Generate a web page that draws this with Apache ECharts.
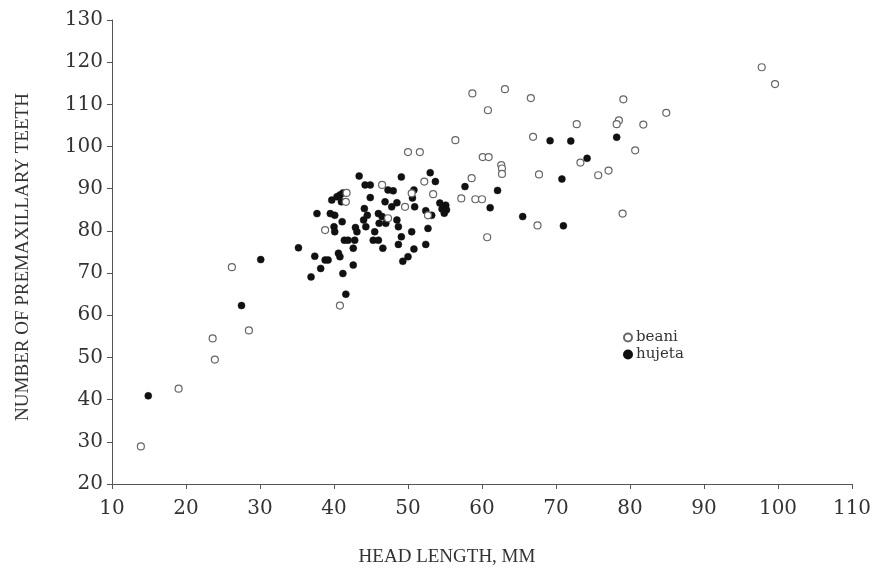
<!DOCTYPE html>
<html>
<head>
<meta charset="utf-8">
<script src="https://cdn.jsdelivr.net/npm/echarts@6/dist/echarts.min.js"></script>
<style>
html,body{margin:0;padding:0;background:#fff;}
#chart{width:879px;height:573px;}
</style>
</head>
<body>
<div id="chart"></div>
<script>
// Axis ticks
var xTicks = [10, 20, 30, 40, 50, 60, 70, 80, 90, 100, 110];
var yTicks = [20, 30, 40, 50, 60, 70, 80, 90, 100, 110, 120, 130];

// beani (open circles): [head length mm, premaxillary teeth]
var beaniHead = [13.9, 19.0, 23.6, 23.9, 28.5, 26.2, 40.8, 38.8, 41.7, 41.6, 46.5, 50.5, 49.6, 47.3, 52.2, 53.4, 52.7, 50.0, 51.6, 56.4, 58.6, 57.2, 59.1, 60.0, 60.7, 60.1, 60.9, 62.6, 62.7, 62.7, 58.7, 63.1, 60.8, 66.6, 66.9, 67.7, 67.5, 72.8, 73.3, 75.7, 77.1, 78.5, 78.2, 79.1, 79.0, 80.7, 81.8, 84.9, 97.8, 99.6];
var beaniTeeth = [28.9, 42.6, 54.5, 49.5, 56.4, 71.4, 62.3, 80.2, 89.0, 86.9, 90.9, 88.9, 85.7, 83.0, 91.7, 88.7, 83.7, 98.7, 98.7, 101.5, 92.5, 87.7, 87.5, 87.5, 78.5, 97.5, 97.5, 95.6, 94.8, 93.5, 112.6, 113.6, 108.6, 111.5, 102.3, 93.4, 81.3, 105.3, 96.2, 93.2, 94.3, 106.2, 105.3, 111.2, 84.1, 99.1, 105.2, 108.0, 118.8, 114.8];

// hujeta (filled circles)
var hujetaHead = [14.9, 27.5, 30.1, 35.2, 37.7, 39.5, 40.1, 39.7, 40.4, 40.8, 41.2, 41.0, 41.1, 40.0, 40.1, 37.4, 38.8, 39.2, 40.6, 40.8, 38.2, 36.9, 41.2, 41.6, 41.4, 41.9, 42.8, 42.6, 42.6, 42.9, 43.1, 44.3, 45.5, 45.3, 46.0, 46.6, 46.1, 47.0, 48.7, 48.5, 49.1, 50.5, 48.7, 50.8, 50.0, 49.3, 52.7, 52.4, 43.4, 44.2, 44.9, 49.1, 53.0, 53.7, 47.3, 48.0, 50.8, 44.9, 46.9, 48.5, 47.8, 50.6, 50.9, 44.1, 44.5, 44.0, 46.0, 46.5, 52.4, 53.2, 54.3, 55.1, 54.6, 55.2, 54.9, 57.7, 62.1, 61.1, 65.5, 71.0, 70.8, 69.2, 72.0, 78.2, 74.2];
var hujetaTeeth = [40.9, 62.3, 73.2, 76.0, 84.1, 84.1, 83.7, 87.3, 88.1, 88.5, 89.0, 86.9, 82.2, 81.0, 79.8, 74.0, 73.1, 73.1, 74.7, 73.9, 71.1, 69.1, 69.9, 65.0, 77.8, 77.8, 77.8, 75.9, 71.9, 80.8, 79.8, 81.0, 79.8, 77.8, 77.8, 75.9, 81.8, 81.8, 81.0, 82.6, 78.6, 79.8, 76.8, 75.7, 73.9, 72.8, 80.6, 76.8, 93.0, 90.9, 90.9, 92.8, 93.8, 91.7, 89.7, 89.5, 89.7, 87.9, 86.9, 86.7, 85.7, 87.8, 85.7, 85.3, 83.7, 82.6, 84.1, 83.4, 84.8, 83.7, 86.6, 86.1, 85.2, 85.0, 84.2, 90.5, 89.6, 85.5, 83.4, 81.2, 92.3, 101.4, 101.3, 102.2, 97.2];

function pairs(xs, ys) { return xs.map(function (x, i) { return [x, ys[i]]; }); }

var serif = "'Liberation Serif', 'DejaVu Serif', serif";
var chart = echarts.init(document.getElementById('chart'), null, {renderer: 'canvas'});
chart.setOption({
  animation: false,
  backgroundColor: '#ffffff',
  grid: {left: 112, right: 27, top: 20, bottom: 89},
  legend: {
    orient: 'vertical',
    left: 618,
    top: 325,
    itemWidth: 8,
    itemHeight: 8,
    itemGap: 2,
    data: ['beani', 'hujeta'],
    textStyle: {fontFamily: "'DejaVu Serif', serif", fontSize: 15, color: '#333', padding: [0, 0, 0, -1]}
  },
  xAxis: {
    type: 'value',
    min: 10, max: 110, interval: 10,
    name: 'HEAD LENGTH, MM',
    nameLocation: 'middle',
    nameGap: 64,
    nameTextStyle: {fontFamily: serif, fontSize: 19, color: '#333', verticalAlign: 'top', padding: [0, 70, 0, 0]},
    axisLine: {show: true, lineStyle: {color: '#555', width: 1}},
    axisTick: {show: true, inside: false, length: 5, lineStyle: {color: '#555'}},
    axisLabel: {fontFamily: "'DejaVu Serif', serif", fontSize: 20, color: '#333', margin: 15,
      formatter: function (v) { return xTicks.indexOf(v) >= 0 ? String(v) : ''; }},
    splitLine: {show: false}
  },
  yAxis: {
    type: 'value',
    min: 20, max: 130, interval: 10,
    name: 'NUMBER OF PREMAXILLARY TEETH',
    nameLocation: 'middle',
    nameGap: 79,
    nameRotate: 90,
    nameTextStyle: {fontFamily: serif, fontSize: 19, color: '#333', padding: [0, 10, 0, 0]},
    axisLine: {show: true, lineStyle: {color: '#555', width: 1}},
    axisTick: {show: true, inside: false, length: 5, lineStyle: {color: '#555'}},
    axisLabel: {fontFamily: "'DejaVu Serif', serif", fontSize: 20, color: '#333', margin: 9,
      formatter: function (v) { return yTicks.indexOf(v) >= 0 ? String(v) : ''; }},
    splitLine: {show: false}
  },
  series: [
    {
      name: 'hujeta',
      type: 'scatter',
      symbol: 'circle',
      symbolSize: 7,
      itemStyle: {color: '#111', borderColor: '#111', borderWidth: 0.5, opacity: 1},
      data: pairs(hujetaHead, hujetaTeeth),
      z: 2
    },
    {
      name: 'beani',
      type: 'scatter',
      symbol: 'circle',
      symbolSize: 7,
      itemStyle: {color: '#ffffff', borderColor: '#666', borderWidth: 1.2, opacity: 1},
      data: pairs(beaniHead, beaniTeeth),
      z: 3
    }
  ]
});
</script>
</body>
</html>
